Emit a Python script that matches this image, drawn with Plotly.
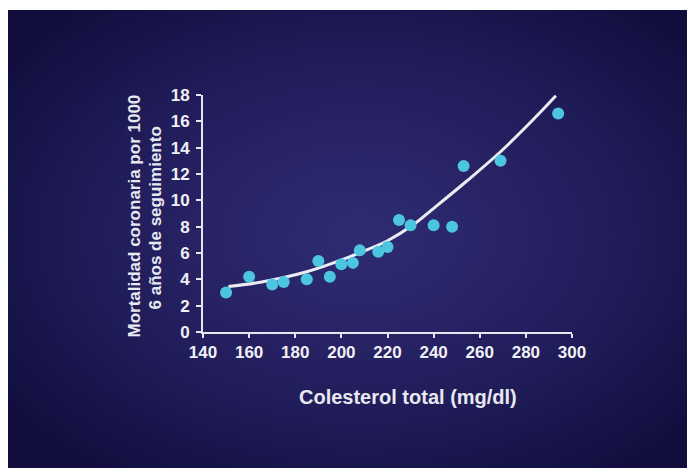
import base64
import plotly.graph_objects as go

# Data
colesterol = [150, 160, 170, 175, 185, 190, 195, 200, 205, 208, 216, 220, 225, 230, 240, 248, 253, 269, 294]
mortalidad = [3.0, 4.2, 3.6, 3.8, 4.0, 5.4, 4.2, 5.15, 5.25, 6.2, 6.1, 6.45, 8.5, 8.1, 8.1, 8.0, 12.6, 13.0, 16.6]

curva_x = [151, 166, 185, 198, 208, 220, 231, 240, 254, 269, 283, 293]
curva_y = [3.45, 3.82, 4.58, 5.34, 6.02, 6.93, 8.12, 9.39, 11.41, 13.69, 16.1, 17.94]

x_ticks = [140, 160, 180, 200, 220, 240, 260, 280, 300]
y_ticks = [0, 2, 4, 6, 8, 10, 12, 14, 16, 18]

x_title = "Colesterol total (mg/dl)"
y_title_1 = "Mortalidad coronaria por 1000"
y_title_2 = "6 años de seguimiento"

# page offset (default body margin of the html page)
OFF = 8
W, H = 695, 468
# desired plot area on the page: x 203..572, y 95..332
L = 203 - OFF
T = 95 - OFF
R = W - (572 - OFF)
B = H - (332 - OFF)
pw, ph = W - L - R, H - T - B


def px_x(page_x):
    return (page_x - OFF - L) / pw


def px_y(page_y):
    return (H - B - (page_y - OFF)) / ph


svg = """<svg xmlns='http://www.w3.org/2000/svg' width='700' height='470' viewBox='0 0 700 470' preserveAspectRatio='none'>
<defs><radialGradient id='g' cx='0.5' cy='0.47' r='0.62' gradientUnits='objectBoundingBox'>
<stop offset='0' stop-color='#302c74'/><stop offset='0.55' stop-color='#221e5c'/><stop offset='1' stop-color='#110e3e'/>
</radialGradient></defs><rect width='700' height='470' fill='url(#g)'/></svg>"""
src = "data:image/svg+xml;base64," + base64.b64encode(svg.encode()).decode()

font_family = "Liberation Sans, Arial, sans-serif"

fig = go.Figure()
fig.add_trace(go.Scatter(
    x=curva_x, y=curva_y, mode="lines",
    line=dict(color="#ececf4", width=3, shape="spline", smoothing=1.0),
    hoverinfo="skip", showlegend=False))
fig.add_trace(go.Scatter(
    x=colesterol, y=mortalidad, mode="markers",
    marker=dict(color="#4cc6e0", size=12, line=dict(width=0)),
    cliponaxis=False, showlegend=False))

fig.update_layout(
    width=W, height=H,
    margin=dict(l=L, r=R, t=T, b=B),
    paper_bgcolor="white", plot_bgcolor="rgba(0,0,0,0)",
    images=[dict(source=src, xref="paper", yref="paper",
                 x=px_x(7), y=px_y(10),
                 sizex=(W + 10) / pw, sizey=(H + 10) / ph,
                 sizing="stretch", xanchor="left", yanchor="top", layer="below")],
    xaxis=dict(range=[140, 300], tickvals=x_ticks, showgrid=False, zeroline=False,
               showline=True, linecolor="#e6e6ee", linewidth=2,
               ticks="outside", ticklen=4, tickcolor="#e6e6ee", tickwidth=1.5,
               tickfont=dict(color="#f0f0f5", size=17, family=font_family, weight="bold")),
    yaxis=dict(range=[0, 18], tickvals=y_ticks, showgrid=False, zeroline=False,
               showline=True, linecolor="#e6e6ee", linewidth=2,
               ticks="outside", ticklen=5, tickcolor="#e6e6ee", tickwidth=1.5,
               ticklabelstandoff=3,
               tickfont=dict(color="#f0f0f5", size=17, family=font_family, weight="bold")),
    annotations=[
        dict(text="<b>" + x_title + "</b>", xref="paper", yref="paper",
             x=px_x(408), y=px_y(410), showarrow=False,
             font=dict(color="#e8e8f0", size=20, family=font_family)),
        dict(text="<b>" + y_title_1 + "</b>", xref="paper", yref="paper",
             x=px_x(122), y=px_y(216), showarrow=False, textangle=-90,
             font=dict(color="#e8e8f0", size=17, family=font_family)),
        dict(text="<b>" + y_title_2 + "</b>", xref="paper", yref="paper",
             x=px_x(143), y=px_y(218), showarrow=False, textangle=-90,
             font=dict(color="#e8e8f0", size=17, family=font_family)),
    ],
)

fig.write_html("out.html")
